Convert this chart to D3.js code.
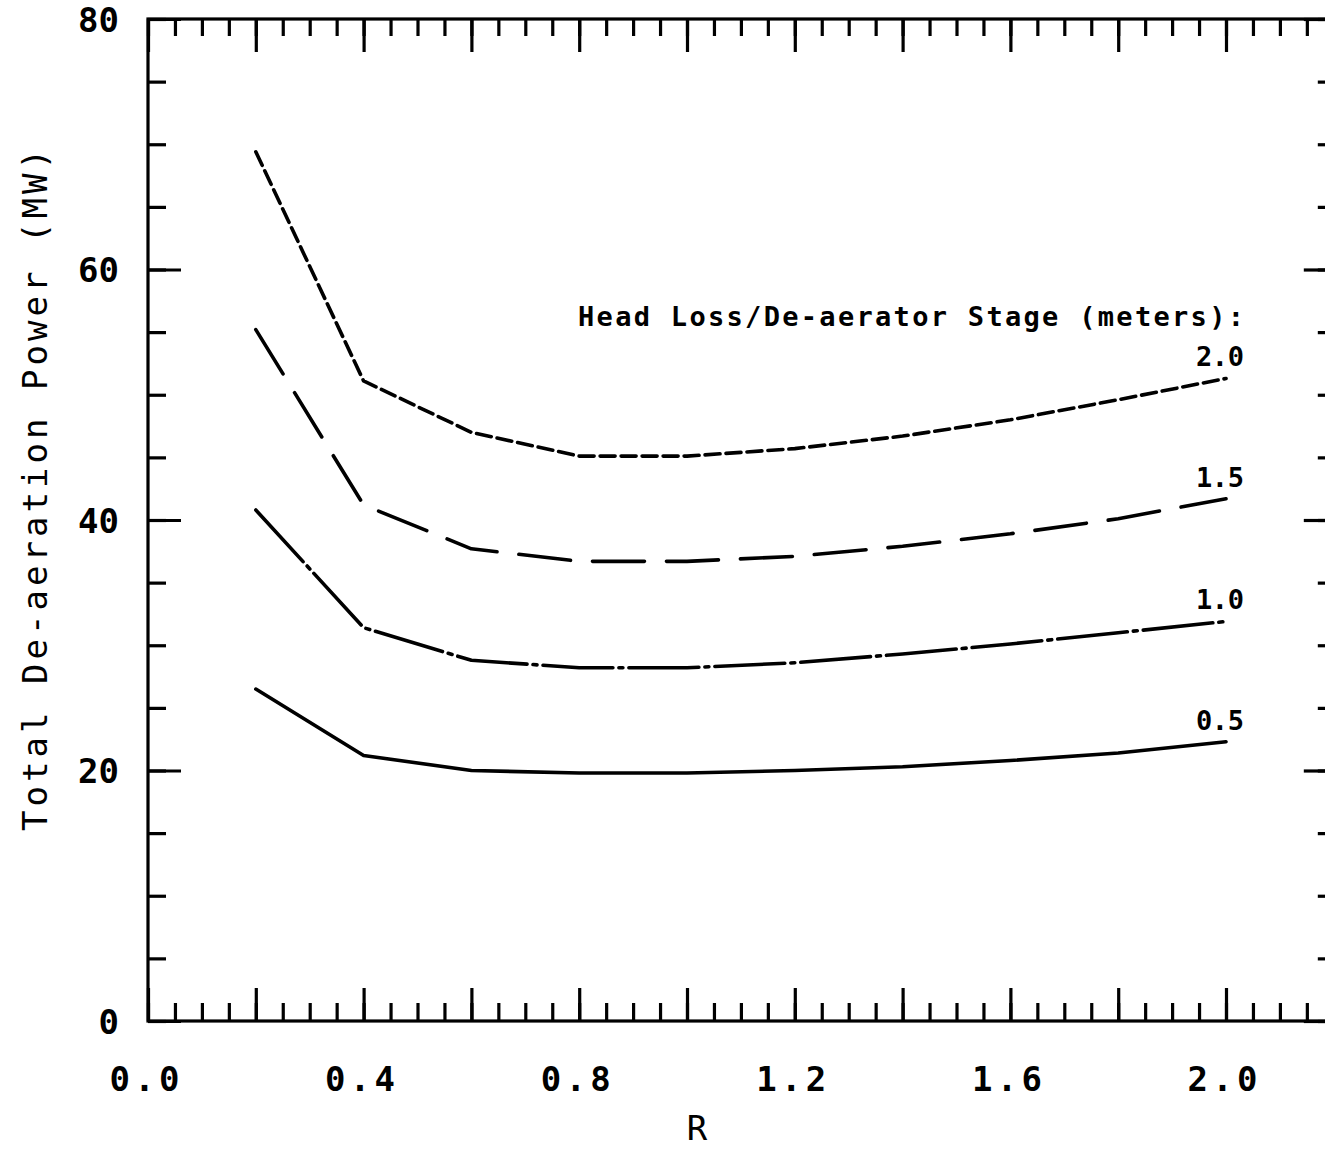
<!DOCTYPE html>
<html><head><meta charset="utf-8">
<script src="https://cdn.jsdelivr.net/npm/d3@7"></script>
<style>
html,body{margin:0;padding:0;background:#fff;}
svg{display:block;}
text{font-family:"DejaVu Sans Mono",monospace;fill:#000;}
</style></head>
<body>
<script>
const R = [0.2,0.4,0.6,0.8,1.0,1.2,1.4,1.6,1.8,2.0];
const head20 = [69.4,51.1,47.0,45.1,45.1,45.7,46.7,48.0,49.6,51.3];
const head15 = [55.2,41.2,37.7,36.7,36.7,37.1,37.9,38.9,40.1,41.7];
const head10 = [40.8,31.4,28.8,28.2,28.2,28.6,29.3,30.1,31.0,31.9];
const head05 = [26.5,21.2,20.0,19.8,19.8,20.0,20.3,20.8,21.4,22.3];
const seriesLabels = ["2.0","1.5","1.0","0.5"];
const xMajorTicks = [0,0.2,0.4,0.6,0.8,1.0,1.2,1.4,1.6,1.8,2.0,2.2];
const xLabelTicks = ["0.0","0.4","0.8","1.2","1.6","2.0"];
const yMajorTicks = [0,20,40,60,80];
const yLabels = ["0","20","40","60","80"];
const legendTitle = "Head Loss/De-aerator Stage (meters):";
const xTitle = "R";
const yTitle = "Total De-aeration Power (MW)";

const W = 1325, H = 1152;
const x0 = 148, x1 = 148 + 539*2.2, yTop = 19, yBot = 1021;
const svg = d3.select("body").append("svg").attr("width",W).attr("height",H);

const x = d3.scaleLinear().domain([0,2.2]).range([x0,x1]);
const y = d3.scaleLinear().domain([0,80]).range([yBot,yTop]);

const xMinor = d3.range(0,2.2001,0.05).map(v=>+v.toFixed(2));
const yMinor = d3.range(0,80.001,5);

function styleAxis(g){
  g.select(".domain").remove();
  g.selectAll(".tick line").attr("stroke","#000").attr("stroke-width",3.2);
}
const fmt = d3.format(".1f");
// bottom
svg.append("g").attr("transform",`translate(0,${yBot})`)
  .call(d3.axisBottom(x).tickValues(xMinor).tickSize(-18).tickFormat(""))
  .call(styleAxis);
svg.append("g").attr("transform",`translate(0,${yBot})`)
  .call(d3.axisBottom(x).tickValues(xMajorTicks).tickSize(-33).tickPadding(46)
    .tickFormat(d=>xLabelTicks.includes(fmt(d))?fmt(d):""))
  .call(styleAxis)
  .call(g=>g.selectAll(".tick text").attr("font-size",34).attr("font-weight","bold")
     .attr("dx",-4)
     .attr("textLength",d=>xLabelTicks.includes(fmt(d))?70:null)
     .attr("lengthAdjust","spacing").attr("dy","0.71em"));
// top
svg.append("g").attr("transform",`translate(0,${yTop})`)
  .call(d3.axisTop(x).tickValues(xMinor).tickSize(-17).tickFormat(""))
  .call(styleAxis);
svg.append("g").attr("transform",`translate(0,${yTop})`)
  .call(d3.axisTop(x).tickValues(xMajorTicks).tickSize(-33).tickFormat(""))
  .call(styleAxis);
// left
svg.append("g").attr("transform",`translate(${x0},0)`)
  .call(d3.axisLeft(y).tickValues(yMinor).tickSize(-18).tickFormat(""))
  .call(styleAxis);
svg.append("g").attr("transform",`translate(${x0},0)`)
  .call(d3.axisLeft(y).tickValues(yMajorTicks).tickSize(-33).tickPadding(29)
     .tickFormat((d,i)=>yLabels[i]))
  .call(styleAxis)
  .call(g=>g.selectAll(".tick text").attr("font-size",34).attr("font-weight","bold")
     .attr("dy","0.36em"));
// right
svg.append("g").attr("transform",`translate(${x1},0)`)
  .call(d3.axisRight(y).tickValues(yMinor).tickSize(-16).tickFormat(""))
  .call(styleAxis);
svg.append("g").attr("transform",`translate(${x1},0)`)
  .call(d3.axisRight(y).tickValues(yMajorTicks).tickSize(-30).tickFormat(""))
  .call(styleAxis);

// frame
svg.append("rect").attr("x",x0).attr("y",yTop).attr("width",x1-x0).attr("height",yBot-yTop)
  .attr("fill","none").attr("stroke","#000").attr("stroke-width",3.2);

// series
const series = [
  {vals:head20, dash:"15,6", lab:seriesLabels[0]},
  {vals:head15, dash:"52,22", lab:seriesLabels[1]},
  {vals:head10, dash:"70,6,4,6", lab:seriesLabels[2]},
  {vals:head05, dash:null, lab:seriesLabels[3]}
];
const line = d3.line().x((d,i)=>x(R[i])).y(d=>y(d));
series.forEach(s=>{
  svg.append("path").datum(s.vals).attr("d",line)
    .attr("fill","none").attr("stroke","#000").attr("stroke-width",3.6)
    .attr("stroke-linejoin","round").attr("stroke-linecap","round")
    .attr("stroke-dasharray",s.dash);
  const lastV = s.vals[s.vals.length-1];
  svg.append("text").attr("x",x(2.0)+18).attr("y",y(lastV)-12)
    .attr("text-anchor","end").attr("font-size",27).attr("font-weight","bold")
    .attr("textLength",48).attr("lengthAdjust","spacing")
    .text(s.lab);
});

// legend title
svg.append("text").attr("x",578).attr("y",326).attr("font-size",27).attr("font-weight","bold")
  .attr("textLength",666).attr("lengthAdjust","spacing").text(legendTitle);

// axis titles
svg.append("text").attr("x",697).attr("y",1140).attr("text-anchor","middle")
  .attr("font-size",34).text(xTitle);
svg.append("text").attr("transform","translate(47,490) rotate(-90)").attr("text-anchor","middle")
  .attr("font-size",34).attr("textLength",682).attr("lengthAdjust","spacing").text(yTitle);
</script>
</body></html>
